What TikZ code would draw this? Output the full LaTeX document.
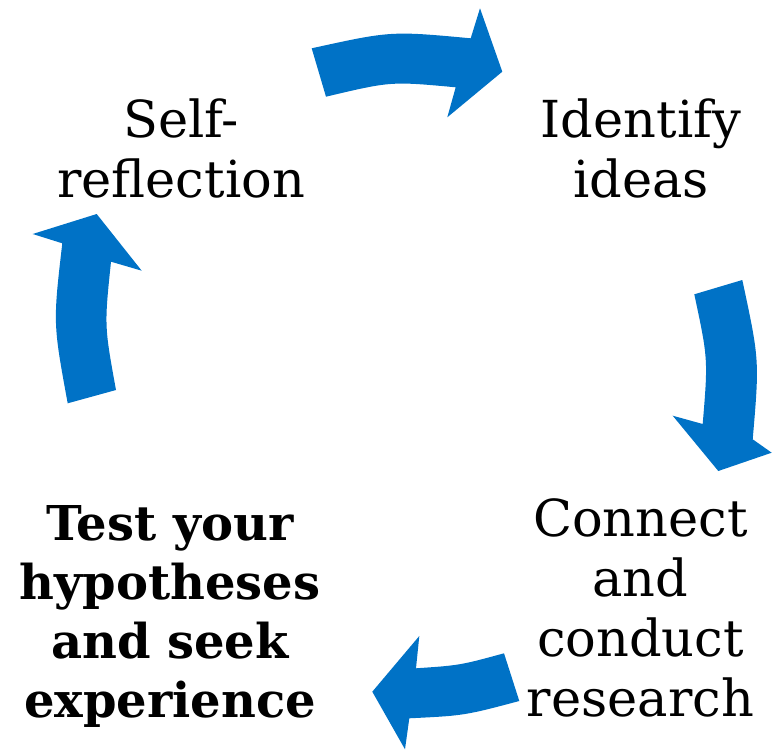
\documentclass[tikz,border=0pt]{standalone}
\usepackage{fontspec}
\setmainfont{DejaVu Serif}
\definecolor{arrowblue}{RGB}{0,114,198}
\begin{document}
\begin{tikzpicture}[x=0.75pt,y=-0.75pt,
  blockarrow/.style={fill=arrowblue,draw=none},
  steplabel/.style={align=center,inner sep=0pt,font=\fontsize{38.25pt}{45pt}\selectfont},
  boldlabel/.style={align=center,inner sep=0pt,font=\fontsize{36pt}{44.25pt}\selectfont\bfseries}]
\useasboundingbox (0,0) rectangle (772,750);
% top arrow
\fill[blockarrow] (311.7,48.3) .. controls (390.9,30.9) .. (470.7,38.3) -- (480,8.3) -- (502.3,71.7)
  -- (447.3,117.3) -- (455.7,87.3) .. controls (390.9,81.3) .. (326,96.7) -- cycle;
% right arrow
\fill[blockarrow] (742.3,280) .. controls (759.5,360.1) .. (752.7,439.3) -- (771.7,452.7) -- (718.3,471)
  -- (672.7,415.7) -- (702.7,424) .. controls (708.1,359) .. (694.3,294.3) -- cycle;
% bottom arrow
\fill[blockarrow] (519.3,701) .. controls (464.3,715.6) .. (409.3,718.3) -- (405,749.3) -- (372.3,691.7)
  -- (419.3,636) -- (416,668.3) .. controls (460,665.3) .. (504,653.3) -- cycle;
% left arrow
\fill[blockarrow] (67.7,403.3) .. controls (53,323.3) .. (62.3,243.3) -- (32.7,234) -- (96.7,214)
  -- (141.7,270.7) -- (111,261.7) .. controls (104.3,325.9) .. (116,390) -- cycle;
% labels
\node[steplabel] (selfref) at (181,148.6) {Self-\\reflection};
\node[steplabel] (identify) at (641,148.6) {Identify\\ideas};
\node[steplabel] (connect) at (640.5,608) {Connect\\and\\conduct\\research};
\node[boldlabel] (test) at (170,616.5) {Test your\\hypotheses\\and seek\\experience};
\end{tikzpicture}
\end{document}
